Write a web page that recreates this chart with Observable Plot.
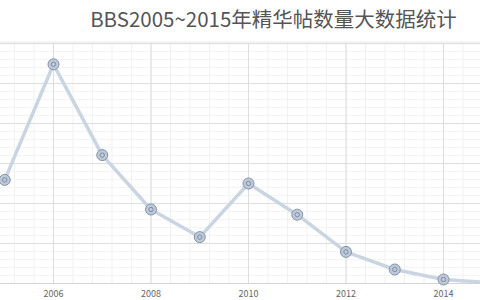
<!DOCTYPE html>
<html>
<head>
<meta charset="utf-8">
<script src="https://cdn.jsdelivr.net/npm/d3@7"></script>
<script src="https://cdn.jsdelivr.net/npm/@observablehq/plot@0.6"></script>
<style>
  html, body { margin: 0; padding: 0; background: #fff; }
  svg { display: block; }
</style>
</head>
<body>
<div id="chart"></div>
<script>
const titleText = "BBS2005~2015年精华帖数量大数据统计";
const years = [2005, 2006, 2007, 2008, 2009, 2010, 2011, 2012, 2013, 2014, 2015];
const counts = [259, 548, 321, 185, 116, 250, 172, 79, 35, 10, 2];
const xTickYears = [2006, 2008, 2010, 2012, 2014];

const data = years.map((y, i) => ({year: y, count: counts[i]}));

const gridMinorY = d3.range(0, 601, 20);
const gridMajorY = d3.range(0, 601, 100);
const gridMinorX = d3.range(2004.8, 2015, 0.4);
const gridMajorX = d3.range(2004, 2016, 2);

const chart = Plot.plot({
  width: 480,
  height: 300,
  marginTop: 0,
  marginBottom: 17,
  marginLeft: 0,
  marginRight: 0,
  style: {background: "#fff", fontFamily: "'Noto Sans CJK SC', 'Open Sans', sans-serif"},
  x: {domain: [2004.913, 2014.759], axis: null},
  y: {domain: [0, 707.5], axis: null},
  marks: [
    Plot.ruleY([600], {y: d => d + 2, stroke: "#f3f3f3", strokeWidth: 3}),
    Plot.ruleY(gridMinorY, {stroke: "#f4f4f4", strokeWidth: 1}),
    Plot.ruleX(gridMinorX, {y1: 0, y2: 600, stroke: "#f1f1f1", strokeWidth: 1}),
    Plot.ruleY(gridMajorY, {stroke: "#dedede", strokeWidth: 1}),
    Plot.ruleX(gridMajorX, {y1: 0, y2: 600, stroke: "#dcdcdc", strokeWidth: 1}),
    Plot.ruleY([0], {stroke: "#d4d4d4", strokeWidth: 1.2}),
    Plot.line(data, {x: "year", y: "count", stroke: "#cad5e2", strokeWidth: 3.5, strokeLinejoin: "round"}),
    Plot.dot(data, {x: "year", y: "count", r: 5.5, fill: "#bfcad8", stroke: "#8192aa", strokeWidth: 1}),
    Plot.dot(data, {x: "year", y: "count", r: 2.2, fill: "none", stroke: "#7c8da6", strokeWidth: 1}),
    Plot.axisX(xTickYears, {tickSize: 0, tickPadding: 7, fontSize: 9, fill: "#666", label: null, tickFormat: d => String(d)}),
    Plot.text([titleText], {frameAnchor: "top", dx: 33, dy: 20, fontSize: 20.5, fill: "#555", textAnchor: "middle", lineAnchor: "middle"})
  ]
});
document.getElementById("chart").appendChild(chart);
</script>
</body>
</html>
